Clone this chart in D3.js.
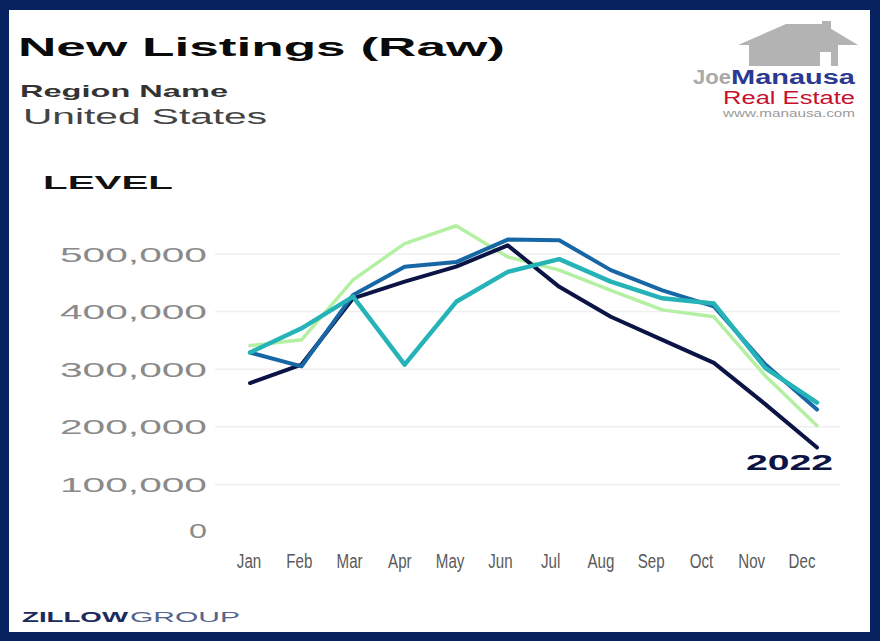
<!DOCTYPE html>
<html>
<head>
<meta charset="utf-8">
<script src="https://cdn.jsdelivr.net/npm/d3@7"></script>
<style>
  html, body { margin: 0; padding: 0; background: #08225f; }
  svg { display: block; }
</style>
</head>
<body>
<div class="chart"></div>
<script>
const months = ['Jan', 'Feb', 'Mar', 'Apr', 'May', 'Jun', 'Jul', 'Aug', 'Sep', 'Oct', 'Nov', 'Dec'];
const yTicks = [0, 100000, 200000, 300000, 400000, 500000];

// values
const y2019 = [329000, 305000, 429000, 478000, 486000, 525000, 524000, 472000, 437000, 409000, 308000, 230000];
const y2020 = [329000, 371000, 426000, 308000, 417000, 469000, 491000, 452000, 423000, 414000, 302000, 242000];
const y2021 = [341000, 351000, 455000, 518000, 549000, 495000, 472000, 437000, 403000, 391000, 288000, 202000];
const y2022 = [276000, 308000, 423000, 452000, 478000, 515000, 443000, 391000, 351000, 311000, 239000, 164000];

const series = [
  { name: '2021', values: y2021, color: '#b3f0a2', width: 3.5 },
  { name: '2022', values: y2022, color: '#0c1445', width: 4 },
  { name: '2019', values: y2019, color: '#1767a6', width: 4 },
  { name: '2020', values: y2020, color: '#25b3b8', width: 4.5 }
];

const config = { width: 880, height: 641 };

const svg = d3.select('.chart')
  .append('svg')
  .attr('width', config.width)
  .attr('height', config.height);

// navy frame
svg.append('rect')
  .attr('width', config.width)
  .attr('height', config.height)
  .attr('fill', '#08225f');

svg.append('rect')
  .attr('x', 9)
  .attr('y', 10)
  .attr('width', 861)
  .attr('height', 622)
  .attr('fill', '#ffffff');

const x = d3.scalePoint().domain(months).range([250, 817]);
const xLabel = d3.scalePoint().domain(months).range([249, 802]);
const y = d3.scaleLinear().domain([0, 500000]).range([542, 254]);

// gridlines
svg.append('g')
  .selectAll('line')
  .data(yTicks.filter(d => d > 0))
  .enter()
  .append('line')
  .attr('x1', 215)
  .attr('x2', 840)
  .attr('y1', d => y(d))
  .attr('y2', d => y(d))
  .attr('stroke', '#efefef')
  .attr('stroke-width', 1.5);

// y labels (stretched wide like the source)
svg.append('g')
  .selectAll('text')
  .data(yTicks)
  .enter()
  .append('text')
  .attr('x', 207)
  .attr('y', d => y(d) + (d === 0 ? -12 : 0))
  .attr('dy', '0.36em')
  .attr('text-anchor', 'end')
  .attr('font-family', 'Liberation Sans, Arial, sans-serif')
  .attr('font-size', 21)
  .attr('fill', '#8a8a8a')
  .attr('textLength', d => d === 0 ? 18 : 147)
  .attr('lengthAdjust', 'spacingAndGlyphs')
  .text(d => d3.format(',')(d));

// x labels, squeezed narrow
svg.append('g')
  .selectAll('text')
  .data(months)
  .enter()
  .append('text')
  .attr('transform', d => `translate(${xLabel(d)},568) scale(0.72,1)`)
  .attr('text-anchor', 'middle')
  .attr('font-family', 'Liberation Sans, Arial, sans-serif')
  .attr('font-size', 21)
  .attr('fill', '#5a5a5a')
  .text(d => d);

// lines
const line = d3.line()
  .x((d, i) => x(months[i]))
  .y(d => y(d));

svg.append('g')
  .selectAll('path')
  .data(series)
  .enter()
  .append('path')
  .attr('d', d => line(d.values))
  .attr('fill', 'none')
  .attr('stroke', d => d.color)
  .attr('stroke-width', d => d.width)
  .attr('stroke-linejoin', 'round')
  .attr('stroke-linecap', 'round');

// titles
function addText(txt, opts) {
  return svg.append('text')
    .attr('x', opts.x)
    .attr('y', opts.y)
    .attr('font-family', opts.family || 'Liberation Sans, Arial, sans-serif')
    .attr('font-size', opts.size)
    .attr('font-weight', opts.weight || 'normal')
    .attr('fill', opts.fill)
    .attr('textLength', opts.len)
    .attr('lengthAdjust', 'spacingAndGlyphs')
    .text(txt);
}

addText('New Listings (Raw)', { x: 18, y: 56, size: 26, weight: 'bold', fill: '#0a0a0a', len: 487 });
addText('Region Name', { x: 20, y: 97, size: 17, weight: 'bold', fill: '#333333', len: 208 });
addText('United States', { x: 23, y: 124, size: 22, fill: '#444444', len: 244 });
addText('LEVEL', { x: 43, y: 189, size: 18, weight: 'bold', fill: '#111111', len: 130 });
addText('2022', { x: 746, y: 470, size: 22, weight: 'bold', fill: '#0c1445', len: 87 });

// zillow mark
addText('ZILLOW', { x: 22, y: 622, size: 14, weight: 'bold', fill: '#1c2a5c', len: 106 });
addText('GROUP', { x: 130, y: 622, size: 14, fill: '#55648c', len: 110 });

// joe manausa logo
const house = svg.append('g').attr('fill', '#b3b3b3');
house.append('rect').attr('x', 822).attr('y', 21).attr('width', 9).attr('height', 12);
house.append('polygon').attr('points', '738,45 786,24 823,24 858,45');
house.append('rect').attr('x', 749).attr('y', 44).attr('width', 89).attr('height', 22);
house.append('rect').attr('x', 820).attr('y', 52).attr('width', 11).attr('height', 14).attr('fill', '#ffffff');

addText('Joe', { x: 693, y: 84, size: 20, weight: 'bold', fill: '#a9a9a9', len: 38 });
addText('Manausa', { x: 731, y: 84, size: 20, weight: 'bold', fill: '#2b3990', len: 124 });
addText('Real Estate', { x: 723, y: 104, size: 17.5, fill: '#c8102e', len: 132 });
addText('www.manausa.com', { x: 723, y: 117, size: 11.5, fill: '#9a9a9a', len: 132 });
</script>
</body>
</html>
